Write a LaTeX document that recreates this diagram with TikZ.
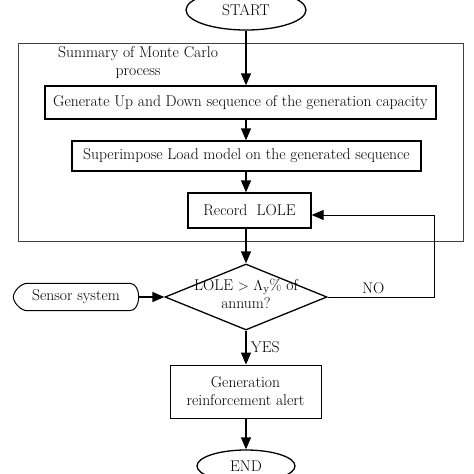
\documentclass[tikz,border=0pt]{standalone}
\usetikzlibrary{shapes.geometric,arrows.meta}
\begin{document}
\begin{tikzpicture}[x=1pt,y=-1pt,
  txt/.style={font=\fontsize{15.6}{18}\selectfont},
  boxnode/.style={draw,line width=1.3pt,rectangle,inner sep=0pt,txt},
  arr/.style={line width=1.3pt,-{Triangle[length=12pt,width=10pt]}},
  term/.style={draw,line width=1.3pt,ellipse,inner sep=0pt,txt}]
\useasboundingbox (0,0) rectangle (474,474);
\fill[white] (0,0) rectangle (474,474);
% outer summary frame
\draw[line width=0.9pt,black!75] (18,43) rectangle (463,241);
\node[txt,align=center] (summ) at (138,63) {Summary of Monte Carlo\\process};
% nodes
\node[term,minimum width=120pt,minimum height=40pt] (start) at (246,10) {START};
\node[boxnode,minimum width=391pt,minimum height=33pt] (gen) at (240.5,102.5) {Generate Up and Down sequence of the generation capacity};
\node[boxnode,minimum width=349pt,minimum height=30pt] (sup) at (246.5,156) {Superimpose Load model on the generated sequence};
\node[boxnode,minimum width=123pt,minimum height=35pt] (rec) at (249.5,210.5) {Record\ \ LOLE};
\node[draw,line width=1.3pt,diamond,minimum width=162pt,minimum height=66pt,inner sep=0pt] (dec) at (246,297) {};
\node[txt,align=center] (dectext) at (246,294) {LOLE $>$ $\Lambda_{\mathrm{y}}$\% of\\annum?};
\node[rectangle,minimum width=125pt,minimum height=27pt,inner sep=0pt,txt] (sen) at (76,297) {Sensor system};
\draw[line width=1pt] ([xshift=14pt]sen.north west) -- ([xshift=-9pt]sen.north east)
  .. controls ([xshift=-3pt]sen.north east) and ([yshift=7pt]sen.east) .. (sen.east)
  .. controls ([yshift=-7pt]sen.east) and ([xshift=-3pt]sen.south east) .. ([xshift=-9pt]sen.south east)
  -- ([xshift=14pt]sen.south west)
  .. controls ([xshift=7pt]sen.south west) and ([yshift=-5pt]sen.west) .. (sen.west)
  .. controls ([yshift=5pt]sen.west) and ([xshift=7pt]sen.north west) .. ([xshift=14pt]sen.north west) -- cycle;
\node[draw,line width=0.8pt,rectangle,inner sep=0pt,minimum width=151pt,minimum height=53pt,txt,align=center] (alert) at (245.5,391.5) {Generation\\reinforcement alert};
\node[term,minimum width=98pt,minimum height=32pt] (end) at (246,466) {END};
\coordinate (corner1) at (434,297);
\coordinate (corner2) at (434,215);
% connectors
\draw[arr] (start.south) -- (start.south |- gen.north);
\draw[arr] (start.south |- gen.south) -- (start.south |- sup.north);
\draw[arr] (start.south |- sup.south) -- (start.south |- rec.north);
\draw[arr] (start.south |- rec.south) -- (dec.north);
\draw[arr] (sen.east) -- (dec.west);
\draw[arr] (dec.south) -- node[right,txt,xshift=1pt] {YES} (dec.south |- alert.north);
\draw[arr] (dec.south |- alert.south) -- (end.north);
\draw[line width=1pt] (dec.east) -- node[above,txt,yshift=-1pt,pos=0.43] {NO} (corner1) -- (corner2);
\draw[arr,line width=1pt] (corner2) -- (rec.east |- corner2);
\end{tikzpicture}
\end{document}
